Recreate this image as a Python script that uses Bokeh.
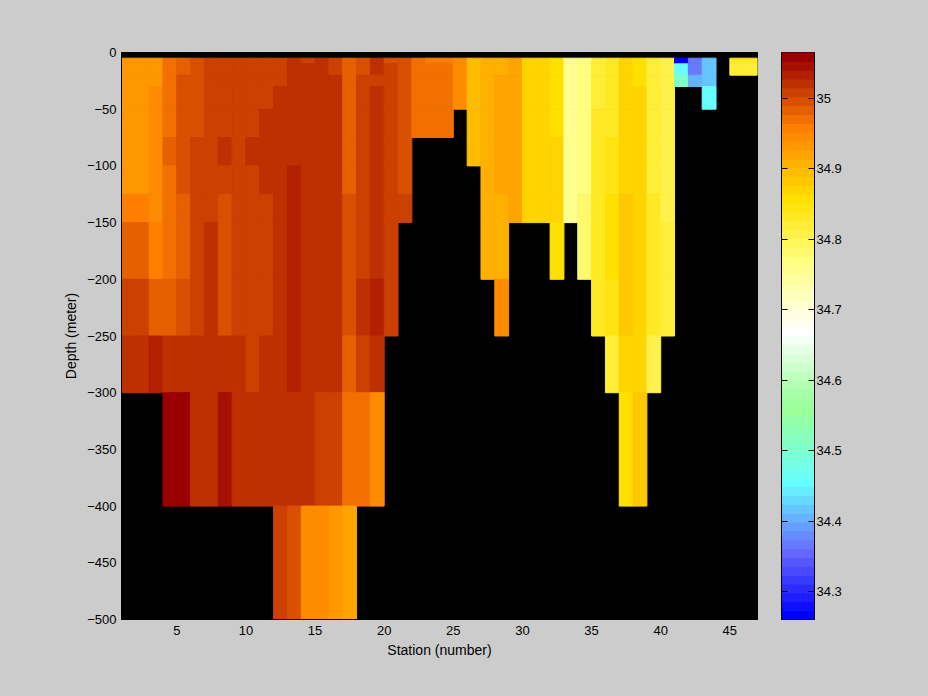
from bokeh.embed import file_html
from bokeh.layouts import row
from bokeh.models import ColumnDataSource, FixedTicker, LinearAxis, LinearColorMapper, Range1d
from bokeh.plotting import figure
from bokeh.resources import INLINE

# Lower edge of every sampled depth layer; the first layer starts at -5 m, above it no data
layer_top = [-5, -10, -20, -30, -50, -75, -100, -125, -150, -200, -250, -300, -400]
layer_bottom = [-10, -20, -30, -50, -75, -100, -125, -150, -200, -250, -300, -400, -500]

# Salinity per station, from the shallowest layer down until the sea floor
st01 = [34.933, 34.933, 34.933, 34.933, 34.933, 34.933, 34.933, 34.958, 34.983, 35.009, 35.021]
st02 = [34.933, 34.933, 34.933, 34.933, 34.933, 34.933, 34.933, 34.958, 34.983, 35.009, 35.021]
st03 = [34.933, 34.933, 34.933, 34.946, 34.946, 34.946, 34.946, 34.946, 34.958, 34.983, 35.034]
st04 = [34.971, 34.971, 34.971, 34.971, 34.971, 34.983, 34.971, 34.971, 34.971, 34.983, 35.021, 35.059]
st05 = [34.983, 34.983, 34.996, 34.996, 34.996, 34.996, 34.996, 34.983, 34.983, 34.996, 35.021, 35.059]
st06 = [34.996, 34.996, 34.996, 34.996, 34.996, 35.009, 35.009, 35.009, 35.009, 35.009, 35.021, 35.021]
st07 = [35.009, 35.009, 35.009, 35.009, 35.009, 35.009, 35.009, 35.009, 35.021, 35.021, 35.021, 35.021]
st08 = [35.009, 35.009, 35.009, 35.009, 35.009, 35.021, 35.009, 34.996, 34.996, 34.996, 35.021, 35.046]
st09 = [35.009, 35.009, 35.009, 35.009, 35.009, 35.009, 35.009, 35.009, 35.009, 35.009, 35.021, 35.021]
st10 = [35.009, 35.009, 35.009, 35.009, 35.009, 35.021, 35.009, 35.009, 35.009, 35.009, 35.009, 35.021]
st11 = [35.009, 35.009, 35.009, 35.009, 35.021, 35.021, 35.021, 35.009, 35.009, 35.009, 35.021, 35.021]
st12 = [35.009, 35.009, 35.009, 35.021, 35.021, 35.021, 35.021, 35.021, 35.021, 35.021, 35.021, 35.021, 35.009]
st13 = [35.021, 35.021, 35.021, 35.021, 35.021, 35.021, 35.034, 35.034, 35.034, 35.034, 35.034, 35.021, 34.996]
st14 = [35.009, 35.021, 35.021, 35.021, 35.021, 35.021, 35.021, 35.021, 35.021, 35.021, 35.021, 35.021, 34.946]
st15 = [35.021, 35.021, 35.021, 35.021, 35.021, 35.021, 35.021, 35.021, 35.021, 35.021, 35.021, 35.009, 34.946]
st16 = [35.009, 35.009, 35.021, 35.021, 35.021, 35.021, 35.021, 35.021, 35.021, 35.021, 35.021, 35.009, 34.933]
st17 = [34.983, 34.983, 34.983, 34.983, 34.983, 34.983, 34.983, 34.996, 34.996, 34.996, 34.983, 34.971, 34.921]
st18 = [34.996, 34.996, 35.009, 35.009, 35.009, 35.009, 35.009, 35.009, 35.009, 35.021, 35.009, 34.971]
st19 = [35.021, 35.021, 35.009, 35.021, 35.021, 35.021, 35.021, 35.021, 35.021, 35.034, 35.021, 34.946]
st20 = [34.996, 35.009, 35.009, 35.009, 35.009, 35.009, 35.009, 35.009, 35.009, 35.009]
st21 = [34.996, 34.996, 34.996, 34.996, 34.996, 34.996, 34.996, 35.009]
st22 = [34.971, 34.971, 34.971, 34.971, 34.971]
st23 = [34.958, 34.971, 34.971, 34.971, 34.971]
st24 = [34.958, 34.971, 34.971, 34.971, 34.971]
st25 = [34.946, 34.946, 34.946, 34.946]
st26 = [34.895, 34.895, 34.895, 34.895, 34.895, 34.895]
st27 = [34.908, 34.908, 34.908, 34.908, 34.908, 34.908, 34.908, 34.908, 34.908]
st28 = [34.908, 34.908, 34.921, 34.921, 34.921, 34.921, 34.921, 34.908, 34.908, 34.946]
st29 = [34.921, 34.921, 34.921, 34.921, 34.921, 34.921, 34.921, 34.921]
st30 = [34.870, 34.870, 34.870, 34.870, 34.870, 34.870, 34.870, 34.870]
st31 = [34.870, 34.870, 34.870, 34.870, 34.870, 34.870, 34.870, 34.870]
st32 = [34.858, 34.858, 34.858, 34.858, 34.858, 34.870, 34.870, 34.870, 34.858]
st33 = [34.757, 34.757, 34.757, 34.757, 34.757, 34.757, 34.757, 34.757]
st34 = [34.770, 34.770, 34.770, 34.770, 34.770, 34.770, 34.770, 34.782, 34.782]
st35 = [34.820, 34.820, 34.820, 34.820, 34.833, 34.833, 34.833, 34.833, 34.833, 34.833]
st36 = [34.833, 34.833, 34.833, 34.833, 34.833, 34.845, 34.845, 34.858, 34.858, 34.845, 34.820]
st37 = [34.870, 34.870, 34.870, 34.870, 34.870, 34.870, 34.870, 34.883, 34.883, 34.883, 34.870, 34.858]
st38 = [34.858, 34.858, 34.858, 34.870, 34.870, 34.870, 34.870, 34.870, 34.870, 34.870, 34.870, 34.883]
st39 = [34.820, 34.820, 34.820, 34.820, 34.820, 34.820, 34.820, 34.833, 34.833, 34.833, 34.808]
st40 = [34.808, 34.808, 34.808, 34.808, 34.808, 34.808, 34.808, 34.808, 34.820, 34.820]
st41 = [34.267, 34.456, 34.506]
st42 = [34.368, 34.368, 34.405]
st43 = [34.418, 34.418, 34.418, 34.456]
st44 = []
st45 = [34.833, 34.820]
st46 = [34.833, 34.820]

stations = [
    st01, st02, st03, st04, st05, st06, st07, st08, st09, st10, st11, st12,
    st13, st14, st15, st16, st17, st18, st19, st20, st21, st22, st23,
    st24, st25, st26, st27, st28, st29, st30, st31, st32, st33, st34, st35,
    st36, st37, st38, st39, st40, st41, st42, st43, st44, st45, st46,
]

salinity_low = 34.261
salinity_high = 35.065

# 64 level colour table, from the highest salinity to the lowest
palette_high_to_low = [
    "#990000", "#a61000", "#b32000", "#bf3000", "#cc4000", "#d95000", "#e66000", "#f27000",
    "#ff8000", "#ff8c00", "#ff9800", "#ffa400", "#ffb000", "#ffbc00", "#ffc800", "#ffd400",
    "#ffe000", "#ffe412", "#ffe924", "#ffed37", "#fff149", "#fff65b", "#fffa6d", "#ffff80",
    "#ffff90", "#ffffa0", "#ffffb0", "#ffffbf", "#ffffcf", "#ffffdf", "#ffffef", "#ffffff",
    "#f2fff2", "#e6ffe6", "#d9ffd9", "#ccffcc", "#bfffbf", "#b2ffb2", "#a6ffa6", "#9fff9f",
    "#99ff99", "#93ffa6", "#8cffb3", "#86ffbf", "#80ffcc", "#79ffd9", "#73ffe6", "#6cfff2",
    "#66ffff", "#66ecff", "#66d9ff", "#66c5ff", "#66b2ff", "#669fff", "#668cff", "#6679ff",
    "#6666ff", "#5757ff", "#4949ff", "#3a3aff", "#2c2cff", "#1d1dff", "#0e0eff", "#0000ff",
]
palette_low_to_high = palette_high_to_low[::-1]

x_ticks = [5, 10, 15, 20, 25, 30, 35, 40, 45]
y_ticks = [0, -50, -100, -150, -200, -250, -300, -350, -400, -450, -500]
bar_ticks = [34.3, 34.4, 34.5, 34.6, 34.7, 34.8, 34.9, 35.0]
bar_labels = {34.3: "34.3", 34.4: "34.4", 34.5: "34.5", 34.6: "34.6",
              34.7: "34.7", 34.8: "34.8", 34.9: "34.9", 35.0: "35"}

GREY = "#cccccc"
FONT = "Liberation Sans"

mapper = LinearColorMapper(palette=palette_low_to_high, low=salinity_low, high=salinity_high)

left, right, top, bottom, sal = [], [], [], [], []
for number, column in enumerate(stations, start=1):
    for layer, s in enumerate(column):
        left.append(number)
        right.append(number + 1)
        top.append(layer_top[layer])
        bottom.append(layer_bottom[layer])
        sal.append(s)
source = ColumnDataSource(dict(left=left, right=right, top=top, bottom=bottom, sal=sal))

p = figure(
    width=767, height=688, output_backend="svg", toolbar_location=None,
    x_range=Range1d(1, 47), y_range=Range1d(-500, 0),
    background_fill_color="#000000", border_fill_color=GREY,
    min_border_left=121, min_border_right=10, min_border_top=51, min_border_bottom=69,
    x_axis_label="Station (number)", y_axis_label="Depth (meter)",
)
color = {"field": "sal", "transform": mapper}
p.quad(left="left", right="right", top="top", bottom="bottom", source=source,
       fill_color=color, line_color=color, line_width=1)

p.grid.visible = False
p.outline_line_color = "#000000"
p.xaxis.ticker = FixedTicker(ticks=x_ticks)
p.yaxis.ticker = FixedTicker(ticks=y_ticks)
for ax in (p.xaxis[0], p.yaxis[0]):
    ax.major_tick_in = 0
    ax.major_tick_out = 0
    ax.minor_tick_in = 0
    ax.minor_tick_out = 0
    ax.axis_line_color = "#000000"
    ax.major_label_text_font = FONT
    ax.major_label_text_font_size = "13px"
    ax.major_label_text_color = "#000000"
    ax.axis_label_text_font = FONT
    ax.axis_label_text_font_size = "14px"
    ax.axis_label_text_font_style = "normal"
    ax.axis_label_text_color = "#000000"
p.yaxis.major_label_standoff = 5
p.xaxis.major_label_standoff = 6
p.xaxis.axis_label_standoff = 4
p.yaxis.axis_label_standoff = 5

# Colour bar as a narrow figure, which gets ticks on both of its sides
step = (salinity_high - salinity_low) / len(palette_low_to_high)
bar_source = ColumnDataSource(dict(
    bottom=[salinity_low + i * step for i in range(len(palette_low_to_high))],
    top=[salinity_low + (i + 1) * step for i in range(len(palette_low_to_high))],
    color=palette_low_to_high,
))
cb = figure(
    width=145, height=688, output_backend="svg", toolbar_location=None,
    x_range=Range1d(0, 1), y_range=Range1d(salinity_low, salinity_high),
    background_fill_color=GREY, border_fill_color=GREY,
    y_axis_location="right", x_axis_location=None,
    min_border_left=14, min_border_right=98, min_border_top=52, min_border_bottom=67,
)
cb.quad(left=0, right=1, top="top", bottom="bottom", source=bar_source,
        fill_color="color", line_color="color", line_width=1)
cb.grid.visible = False
cb.outline_line_color = "#000000"
cb.yaxis.ticker = FixedTicker(ticks=bar_ticks)
cb.yaxis.major_label_overrides = bar_labels
cb.yaxis.major_tick_in = 6
cb.yaxis.major_tick_out = 0
cb.yaxis.minor_tick_in = 0
cb.yaxis.minor_tick_out = 0
cb.yaxis.major_label_text_font = FONT
cb.yaxis.major_label_text_font_size = "13px"
cb.yaxis.major_label_text_color = "#000000"
cb.yaxis.major_label_standoff = 2
left_ticks = LinearAxis(
    ticker=FixedTicker(ticks=bar_ticks), major_tick_in=6, major_tick_out=0,
    minor_tick_in=0, minor_tick_out=0,
    major_label_overrides={t: "" for t in bar_ticks},
)
cb.add_layout(left_ticks, "left")

layout = row(p, cb, spacing=0)
html = file_html(layout, INLINE)
html = html.replace("<head>", "<head><style>html,body{background:#cccccc;overflow:hidden}</style>", 1)
open("out.html", "w").write(html)
